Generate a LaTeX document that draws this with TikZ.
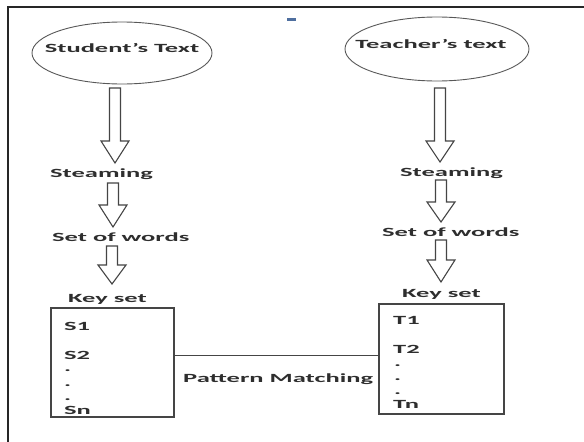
\documentclass[tikz,border=0pt]{standalone}
\usepackage{fontspec}
\usepackage{graphicx}
\setmainfont{Carlito}
\usetikzlibrary{calc}
\definecolor{txt}{HTML}{2E2E2E}
\definecolor{lin}{HTML}{454545}
\definecolor{dashblue}{HTML}{4F6F9F}
\newcommand\sx[1]{\scalebox{2.12}[1]{#1}}
\newcommand\blockarr[3]{%
  \draw[barrow] let \p1=(#1), \p2=(#2) in
    (\x1-5.5pt,\y1) -- (\x1+5.5pt,\y1) -- (\x1+5.5pt,\y2+#3) -- (\x1+14pt,\y2+#3)
    -- (\x1,\y2) -- (\x1-14pt,\y2+#3) -- (\x1-5.5pt,\y2+#3) -- cycle;}
\begin{document}
\begin{tikzpicture}[x=1pt,y=-1pt,
  lbl/.style={inner sep=0pt, text=txt, font=\fontsize{12.5}{14}\selectfont\bfseries},
  keybox/.style={draw=lin, line width=1.3pt, inner sep=0pt},
  oval/.style={draw=lin!90, line width=0.9pt},
  barrow/.style={draw=lin, line width=1.1pt, fill=white, line join=miter},
  frame/.style={draw=black!85, line width=1.5pt},
  link/.style={draw=lin, line width=0.9pt}]
\useasboundingbox (0,0) rectangle (584,442);
\fill[white] (0,0) rectangle (584,442);
% frame
\draw[frame] (8,442) -- (8,7) -- (584,7);
% small blue mark
\fill[dashblue] (287,18) rectangle (296,21);
% ellipses
\draw[oval] (122,53) ellipse [x radius=90, y radius=31];
\draw[oval] (437,49) ellipse [x radius=92, y radius=32];
\node[lbl, anchor=base] (stu) at (122,52) {\sx{Student’s Text}};
\node[lbl, anchor=base] (tea) at (431,48) {\sx{Teacher’s text}};
% left column labels
\node[lbl, anchor=base west] (stL) at (50,177) {\sx{Steaming}};
\node[lbl, anchor=base west] (swL) at (52,241) {\sx{Set of words}};
\node[lbl, anchor=base west] (ksL) at (68,302) {\sx{Key set}};
% right column labels
\node[lbl, anchor=base west] (stR) at (400,176) {\sx{Steaming}};
\node[lbl, anchor=base west] (swR) at (382,236) {\sx{Set of words}};
\node[lbl, anchor=base west] (ksR) at (402,297) {\sx{Key set}};
% arrow end points
\coordinate (a1s) at (115,88);  \coordinate (a1e) at (115,163);
\coordinate (a2s) at (113,183); \coordinate (a2e) at (113,227);
\coordinate (a3s) at (112,246); \coordinate (a3e) at (112,284);
\coordinate (b1s) at (440,88);  \coordinate (b1e) at (440,162);
\coordinate (b2s) at (441,180); \coordinate (b2e) at (441,222);
\coordinate (b3s) at (441,240); \coordinate (b3e) at (441,282);
\blockarr{a1s}{a1e}{22pt}
\blockarr{a2s}{a2e}{22pt}
\blockarr{a3s}{a3e}{19pt}
\blockarr{b1s}{b1e}{21pt}
\blockarr{b2s}{b2e}{20pt}
\blockarr{b3s}{b3e}{22pt}
% key boxes
\node[keybox, minimum width=123pt, minimum height=109pt] (L) at (112.5,362.5) {};
\node[keybox, minimum width=125pt, minimum height=110pt] (R) at (441.5,359) {};
\node[lbl, anchor=base west] (s1) at (64,330) {\sx{S1}};
\node[lbl, anchor=base west] (s2) at (64,359) {\sx{S2}};
\node[lbl, anchor=base west] (sd1) at (64,371) {\sx{.}};
\node[lbl, anchor=base west] (sd2) at (64,386) {\sx{.}};
\node[lbl, anchor=base west] (sd3) at (64,400) {\sx{.}};
\node[lbl, anchor=base west] (sn) at (64,414) {\sx{Sn}};
\node[lbl, anchor=base west] (t1) at (393,324) {\sx{T1}};
\node[lbl, anchor=base west] (t2) at (393,353) {\sx{T2}};
\node[lbl, anchor=base west] (td1) at (394,366) {\sx{.}};
\node[lbl, anchor=base west] (td2) at (394,380) {\sx{.}};
\node[lbl, anchor=base west] (td3) at (394,394) {\sx{.}};
\node[lbl, anchor=base west] (tn) at (393,408) {\sx{Tn}};
% pattern matching link
\draw[link] (L.east |- {0,355.5}) -- (R.west |- {0,355.5});
\node[lbl, anchor=base west] (pm) at (183,382) {\sx{Pattern Matching}};
\end{tikzpicture}
\end{document}
